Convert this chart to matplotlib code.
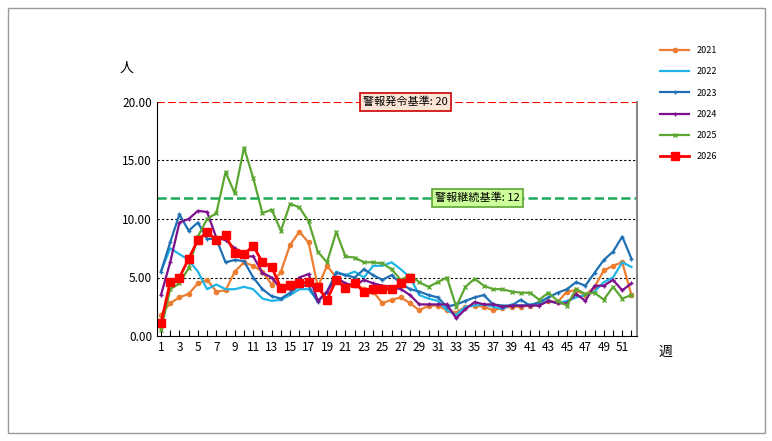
import matplotlib
matplotlib.use("Agg")
import matplotlib.pyplot as plt
from matplotlib.patches import Rectangle

plt.rcParams['font.family'] = ['Noto Sans CJK JP', 'DejaVu Sans']

weeks = list(range(1, 53))
y2021 = [1.8,2.8,3.3,3.6,4.5,4.8,3.8,3.9,5.5,6.3,6.0,5.5,4.4,5.5,7.8,8.9,8.0,4.2,6.0,5.0,4.2,4.5,4.0,3.8,2.8,3.1,3.3,2.8,2.2,2.6,2.6,2.2,2.0,2.5,2.6,2.5,2.2,2.4,2.5,2.5,2.6,2.8,3.0,2.9,3.8,3.9,3.5,4.2,5.6,6.0,6.3,3.5]
y2022 = [5.5,7.5,7.0,6.5,5.5,4.0,4.4,4.0,4.0,4.2,4.0,3.2,3.0,3.1,3.5,4.0,4.0,3.0,3.7,5.5,5.2,5.5,5.0,6.0,6.0,6.3,5.7,5.0,3.5,3.2,3.0,2.2,1.8,2.5,2.6,2.7,2.5,2.3,2.7,2.6,2.7,2.8,3.0,2.8,3.0,3.3,3.5,3.8,4.6,5.0,6.3,5.9]
y2023 = [5.5,8.0,10.4,9.0,9.7,8.3,8.3,6.3,6.5,6.4,5.0,4.0,3.4,3.2,3.7,4.3,4.3,2.9,3.8,5.4,5.2,5.0,5.7,5.2,4.8,5.2,4.5,4.0,3.8,3.5,3.3,2.5,2.7,3.0,3.3,3.5,2.7,2.6,2.6,3.1,2.6,2.9,3.3,3.7,4.0,4.6,4.3,5.4,6.5,7.2,8.5,6.6]
y2024 = [3.5,6.3,9.7,10.0,10.7,10.6,8.4,8.2,7.5,6.8,6.8,5.4,5.0,4.0,4.0,5.0,5.3,3.0,3.8,5.0,4.5,4.3,4.8,4.5,4.3,4.2,4.0,3.5,2.7,2.7,2.7,2.7,1.5,2.3,2.9,2.7,2.7,2.5,2.6,2.6,2.6,2.6,3.0,2.8,2.8,3.6,3.0,4.3,4.3,4.8,3.9,4.5]
y2025 = [0.5,4.0,4.5,5.8,8.5,10.0,10.5,14.0,12.2,16.1,13.5,10.5,10.8,9.0,11.3,11.0,9.8,7.2,6.3,8.9,6.8,6.7,6.3,6.3,6.2,5.7,4.8,5.2,4.6,4.2,4.6,5.0,2.5,4.2,4.9,4.3,4.0,4.0,3.8,3.7,3.7,3.1,3.7,3.0,2.6,4.0,3.6,3.7,3.1,4.2,3.2,3.5]
y2026 = [1.1,4.6,5.0,6.6,8.2,8.9,8.2,8.6,7.1,7.0,7.7,6.3,5.9,4.1,4.4,4.5,4.6,4.2,3.1,4.8,4.1,4.5,3.8,4.0,4.0,4.0,4.5,5.0]
alert_level = 20
continue_level = 11.8

fig = plt.figure(figsize=(7.72, 4.41), dpi=100)
fig.patches.append(Rectangle((8/772, 8/441), 757/772, 425/441, transform=fig.transFigure,
                             fill=False, edgecolor='#999999', lw=1))
ax = fig.add_axes([157/772, 1-336/441, (637-157)/772, (336-102)/441])

series = [("2021", y2021, '#ED7D31', 'o', 3),
          ("2022", y2022, '#1EB4E6', None, 0),
          ("2023", y2023, '#1F6FB4', '+', 3),
          ("2024", y2024, '#7B0F8C', '+', 3),
          ("2025", y2025, '#5CA632', 'x', 3),
          ("2026", y2026, '#FF0000', 's', 6)]
for name, ys, c, m, ms in series:
    ax.plot(weeks[:len(ys)], ys, color=c, marker=m, ms=ms, lw=2 if name == "2026" else 1.6,
            label=name, mew=1)

for v in [5, 10, 15]:
    ax.axhline(v, color='black', ls=(0, (2, 2)), lw=0.8, zorder=0)
ax.axhline(alert_level, color='#FF0000', ls='--', lw=1.5)
ax.axhline(continue_level, color='#1EAA5A', ls='--', lw=1.8)
ax.text(27.5, alert_level, "警報発令基準: 20", fontsize=8, ha='center', va='center',
        bbox=dict(boxstyle='square,pad=0.3', fc='#FCE4D6', ec='#CC0000', lw=1.2))
ax.text(35.3, continue_level, "警報継続基準: 12", fontsize=8, ha='center', va='center',
        bbox=dict(boxstyle='square,pad=0.3', fc='#CCFF99', ec='#5CA632', lw=1.2))

ax.set_xlim(0.57, 52.6)
ax.set_ylim(0, 20)
ax.set_xticks(weeks)
ax.set_xticklabels([str(w) if w % 2 == 1 else '' for w in weeks], fontsize=8.5)
ax.set_yticks([0, 5, 10, 15, 20])
ax.set_yticklabels(["0.00", "5.00", "10.00", "15.00", "20.00"], fontsize=8.5)
ax.tick_params(length=4, direction='in', axis='x')
ax.tick_params(axis='y', length=0)
ax.spines['top'].set_visible(False)
ax.spines['right'].set_color('#888888')
ax.spines['right'].set_linewidth(1.5)

fig.text(127/772, 1-68/441, "人", fontsize=10, ha='center', va='center')
fig.text(665/772, 1-352/441, "週", fontsize=10, ha='center', va='center')
ax.legend(loc='upper left', bbox_to_anchor=(652/772, 1-38/441), bbox_transform=fig.transFigure,
          frameon=False, fontsize=6.5, labelspacing=1.35, handlelength=3.2)

fig.savefig("out.png", dpi=100)
